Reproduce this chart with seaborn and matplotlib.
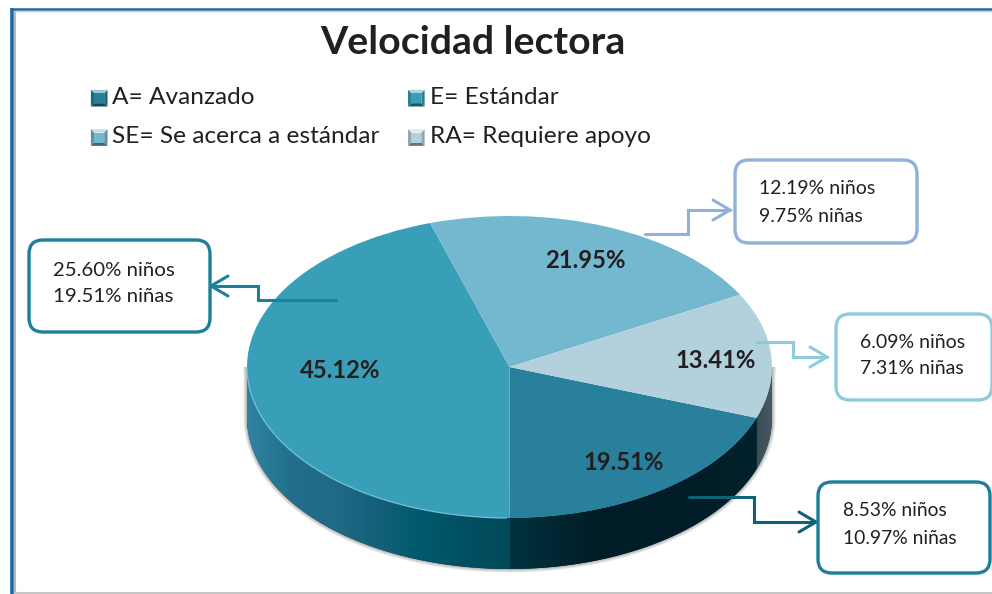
"""Velocidad lectora: 3D-looking pie with callouts."""

import matplotlib
import matplotlib.pyplot as plt
import numpy as np
import seaborn as sns
from matplotlib.colors import LinearSegmentedColormap, to_rgb
from matplotlib.legend_handler import HandlerBase
from matplotlib.patches import FancyBboxPatch, Polygon

matplotlib.use("Agg")

TITLE = "Velocidad lectora"
categories = ["A", "E", "SE", "RA"]
legend_labels = ["A= Avanzado", "E= Estándar", "SE= Se acerca a estándar", "RA= Requiere apoyo"]
percent_total = [19.51, 45.12, 21.95, 13.41]
percent_boys = [8.53, 25.60, 12.19, 6.09]
percent_girls = [10.97, 19.51, 9.75, 7.31]
top_colors = ["#28809c", "#399fb9", "#74b8d0", "#b3d1dd"]
line_colors = ["#0f6275", "#1c7f9c", "#8fb1da", "#8ecbdc"]
box_colors = ["#1c7f9c", "#1c7f9c", "#8fb1da", "#8ecbdc"]
wall_stops = [
    ["#00323f", "#001e28", "#001c26", "#00222c"],
    ["#2f84a1", "#226f8c", "#1f6a84", "#14607a", "#005a6b", "#004f60", "#004a5a"],
    ["#5b8fa5", "#5b8fa5"],
    ["#3a4c57", "#4a5a64"],
]

# layout in reference pixels
WIDTH, HEIGHT = 992, 594
CENTER_X, CENTER_Y = 509.5, 367
RADIUS_X, RADIUS_Y = 262.5, 151
WALL_PX = 51
START_ANGLE = 340.3
label_xy = [(624, 462), (340, 371), (585, 260), (716, 361)]
boxes = [(818, 482, 172, 91), (29, 240, 181, 92), (735, 160, 182, 83), (836, 314, 156, 86)]
box_text_xy = [(843, 524), (53, 283), (759, 202), (860, 355)]
box_font = [13.9, 14.7, 14, 14]
arrows = [
    [(689, 497), (754, 497), (754, 522), (816, 522)],
    [(336, 300), (258, 300), (258, 286), (211, 286)],
    [(645, 234), (688, 234), (688, 210), (730, 210)],
    [(757, 342), (793, 342), (793, 357), (827, 357)],
]


class BevelHandler(HandlerBase):
    """Small bevelled square used as legend key."""

    def create_artists(self, legend, orig_handle, xdescent, ydescent, width, height, fontsize, trans):
        base = np.array(to_rgb(orig_handle.get_facecolor()))
        x0, y0 = -xdescent, -ydescent - 2
        side = width
        inset = side * 0.2
        outer = [(x0, y0), (x0 + side, y0), (x0 + side, y0 + side), (x0, y0 + side)]
        inner = [(x0 + inset, y0 + inset), (x0 + side - inset, y0 + inset),
                 (x0 + side - inset, y0 + side - inset), (x0 + inset, y0 + side - inset)]
        shades = [base * 0.55, base * 0.8, base + (1 - base) * 0.55, base * 0.8]
        artists = []
        for i, shade in enumerate(shades):
            j = (i + 1) % 4
            artists.append(Polygon([outer[i], outer[j], inner[j], inner[i]], facecolor=shade,
                                   edgecolor="none", transform=trans))
        artists.append(Polygon(inner, facecolor=base, edgecolor="none", transform=trans))
        return artists


def draw_wall(axis, theta_start, theta_end, depth, stops):
    """Draw the visible side of one wedge as a horizontal gradient."""
    low, high = max(theta_start, 180), min(theta_end, 360)
    if high <= low:
        return
    theta = np.radians(np.linspace(low, high, 120))
    top = np.column_stack([np.cos(theta), np.sin(theta)])
    bottom = (top - [0, depth])[::-1]
    outline = np.vstack([top, bottom])
    x_min, x_max = top[:, 0].min(), top[:, 0].max()
    cmap = LinearSegmentedColormap.from_list("wall", stops)
    image = axis.imshow(np.linspace(0, 1, 256).reshape(1, -1), cmap=cmap, aspect="auto",
                        extent=(x_min, x_max, -1 - depth, 1), zorder=1)
    clip = Polygon(outline, transform=axis.transData, facecolor="none", edgecolor="none")
    axis.add_patch(clip)
    image.set_clip_path(clip)


sns.set_theme(style="white")
plt.rcParams["font.family"] = ["Lato", "DejaVu Sans"]
palette = sns.color_palette(top_colors)

fig = plt.figure(figsize=(WIDTH / 100, HEIGHT / 100), dpi=100, facecolor="white")

# pie axes: one data unit is the ellipse radius, extended downward for the wall
depth = WALL_PX / RADIUS_Y
pie_ax = fig.add_axes([
    (CENTER_X - RADIUS_X) / WIDTH,
    1 - (CENTER_Y + RADIUS_Y + WALL_PX) / HEIGHT,
    2 * RADIUS_X / WIDTH,
    (2 * RADIUS_Y + WALL_PX) / HEIGHT,
])
wedges, _ = pie_ax.pie(percent_total, colors=palette, startangle=START_ANGLE, counterclock=False,
                       radius=1, wedgeprops={"clip_on": False, "zorder": 3, "linewidth": 0})

# soft shadow under the wall
theta = np.radians(np.linspace(180, 360, 200))
rim = np.column_stack([np.cos(theta), np.sin(theta)])
wall_shape = np.vstack([rim, (rim - [0, depth])[::-1]])
for width in [5, 3.5, 2, 1]:
    pie_ax.add_patch(Polygon(wall_shape, facecolor="none", edgecolor="#555555", alpha=0.13,
                             linewidth=width, zorder=0, clip_on=False))
# dark backing so the gradient pieces leave no seam
pie_ax.add_patch(Polygon(wall_shape, facecolor="#003340", edgecolor="none", zorder=0.5))

for wedge, stops in zip(wedges, wall_stops):
    # the front half runs over angles 180..360, so normalise upward
    start = wedge.theta1 % 360
    end = start + (wedge.theta2 - wedge.theta1)
    draw_wall(pie_ax, start, end, depth, stops)
    if end > 360:
        draw_wall(pie_ax, start - 360, end - 360, depth, stops)

# light rim along the big wedge
big = wedges[1]
rim_theta = np.radians(np.linspace(180, (big.theta1 % 360) + (big.theta2 - big.theta1), 120))
rim_theta = rim_theta[rim_theta <= np.radians(270)]
pie_ax.plot(np.cos(rim_theta), np.sin(rim_theta), color="#6fc3da", lw=0.9, zorder=4, clip_on=False)

pie_ax.set_aspect("auto")
pie_ax.set_xlim(-1, 1)
pie_ax.set_ylim(-1 - depth, 1)
pie_ax.set_axis_off()

# overlay axes in pixel coordinates for frame, callouts and text
ax = fig.add_axes([0, 0, 1, 1], facecolor="none")
ax.set_xlim(0, WIDTH)
ax.set_ylim(HEIGHT, 0)
ax.set_axis_off()

# page frame
ax.plot([11.5, 11.5], [8, HEIGHT], color="#1a6aab", lw=2.6, solid_capstyle="butt")
ax.plot([14.5, 14.5], [10, HEIGHT], color="#b8b8b8", lw=1.5, solid_capstyle="butt")
ax.plot([10, WIDTH], [8.5, 8.5], color="#1a6aab", lw=1.8, solid_capstyle="butt")
ax.plot([14, WIDTH], [10.5, 10.5], color="#c8c8c8", lw=1.0, solid_capstyle="butt")
ax.plot([14, WIDTH], [592.5, 592.5], color="#c6c6c6", lw=1.5, solid_capstyle="butt")

ax.text(473, 43, TITLE, fontsize=28.3, fontweight="bold", color="#231f20", ha="center", va="center")

for (x, y), value in zip(label_xy, percent_total):
    ax.text(x, y, f"{value:.2f}%", fontsize=17.2, fontweight="bold", color="#231f20", ha="center", va="center")

for i, category in enumerate(categories):
    ax.plot(*zip(*arrows[i]), color=line_colors[i], lw=2.2, solid_joinstyle="miter", zorder=5)
    (x_prev, _), (x_tip, y_tip) = arrows[i][-2], arrows[i][-1]
    direction = 1 if x_tip > x_prev else -1
    ax.plot([x_tip - direction * 17, x_tip, x_tip - direction * 17], [y_tip - 10, y_tip, y_tip + 10],
            color=line_colors[i], lw=2.2, solid_joinstyle="miter", zorder=5)

    x, y, w, h = boxes[i]
    ax.add_patch(FancyBboxPatch((x + 14, y + 14), w - 28, h - 28, boxstyle="round,pad=14,rounding_size=14",
                                facecolor="white", edgecolor=box_colors[i], lw=2.4, zorder=6, clip_on=False))
    tx, ty = box_text_xy[i]
    ax.text(tx, ty - 13, f"{percent_boys[i]:.2f}% niños", fontsize=box_font[i], color="#231f20", va="center", zorder=7)
    ax.text(tx, ty + 14, f"{percent_girls[i]:.2f}% niñas", fontsize=box_font[i], color="#231f20", va="center", zorder=7)

handles = [plt.Rectangle((0, 0), 1, 1, facecolor=color) for color in top_colors]
handler_map = {handle: BevelHandler() for handle in handles}
# legend fills column by column, so reorder to keep A/E on the first row
order = [0, 2, 1, 3]
ax.legend([handles[i] for i in order], [legend_labels[i] for i in order], ncols=2, frameon=False,
          loc="upper left", bbox_to_anchor=(86 / WIDTH, 1 - 82 / HEIGHT), borderaxespad=0, borderpad=0.2,
          fontsize=17.6, labelcolor="#231f20", handlelength=0.68, handleheight=0.68, handletextpad=0.2,
          columnspacing=1.15, labelspacing=0.75, handler_map=handler_map)

fig.savefig("out.png", dpi=100)
plt.close(fig)
